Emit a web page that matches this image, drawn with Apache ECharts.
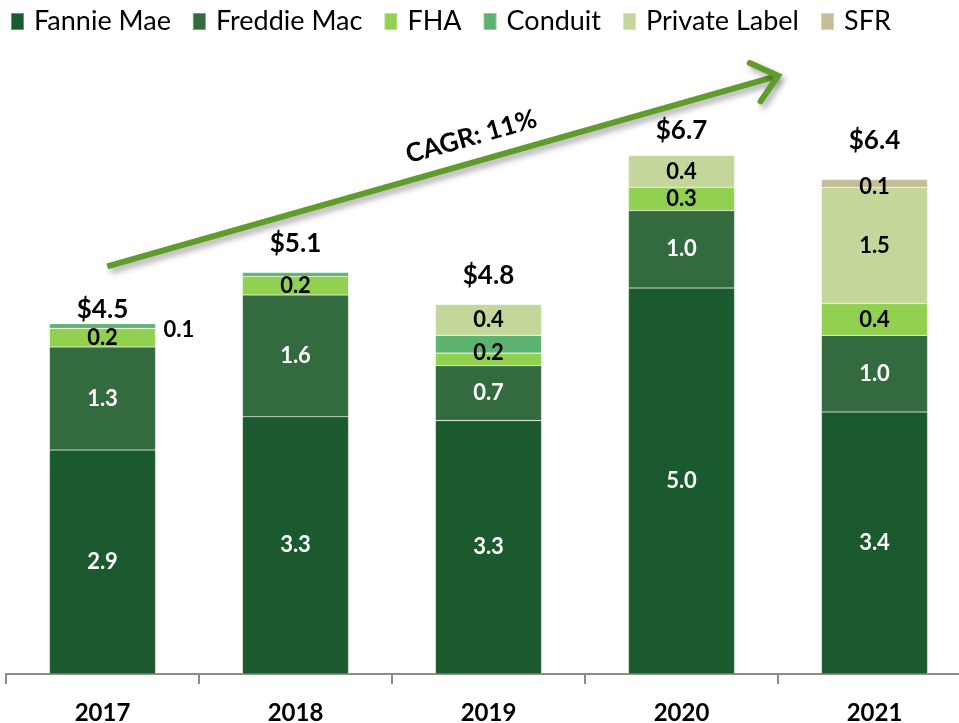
<!DOCTYPE html>
<html>
<head>
<meta charset="utf-8">
<script src="https://cdn.jsdelivr.net/npm/echarts@6/dist/echarts.min.js"></script>
<style>
  html, body { margin: 0; padding: 0; background: #ffffff; }
  #chart { width: 959px; height: 723px; }
</style>
</head>
<body>
<div id="chart"></div>
<script>
// ---- Data ----
const categories   = ['2017', '2018', '2019', '2020', '2021'];
const fannieMae    = [2.89, 3.32, 3.27, 4.98, 3.38];
const freddieMac   = [1.33, 1.57, 0.71, 1.00, 0.99];
const fha          = [0.24, 0.24, 0.16, 0.30, 0.41];
const conduit      = [0.06, 0.05, 0.23, 0, 0];
const privateLabel = [0, 0, 0.40, 0.41, 1.50];
const sfr          = [0, 0, 0, 0, 0.10];
const totalLabels  = ['$4.5', '$5.1', '$4.8', '$6.7', '$6.4'];
const cagrText     = 'CAGR: 11%';
const seriesNames  = ['Fannie Mae', 'Freddie Mac', 'FHA', 'Conduit', 'Private Label', 'SFR'];

// ---- Styles ----
const FONT = 'Lato';
const colors = ['#1b5a2e', '#336a3e', '#92d050', '#5cb26f', '#c4d79b', '#c4bd97'];
const labelColors = ['#ffffff', '#ffffff', '#000000', '#000000', '#000000', '#000000'];

const allSeries = [fannieMae, freddieMac, fha, conduit, privateLabel, sfr];

function itemLabel(si, ci) {
  const base = { show: true, position: 'inside', color: labelColors[si],
    fontFamily: FONT, fontWeight: 'bold', fontSize: 22 };
  if (si === 3) {
    if (ci === 0) return Object.assign(base, { position: 'right', distance: 8, offset: [0, 4], color: '#000' });
    return { show: false };
  }
  if (si === 2 && ci === 2) return Object.assign(base, { offset: [0, -6] });
  if (si === 5) return Object.assign(base, { offset: [0, 3] });
  return base;
}

const barSeries = allSeries.map((arr, si) => ({
  name: seriesNames[si],
  type: 'bar',
  stack: 'total',
  barWidth: '55%',
  itemStyle: { color: colors[si], borderColor: 'rgba(255,255,255,0.35)', borderWidth: 0.6 },
  label: { show: true, position: 'inside', color: labelColors[si], fontFamily: FONT,
    fontWeight: 'bold', fontSize: 22, formatter: (p) => Number(p.value).toFixed(1) },
  data: arr.map((v, ci) => v > 0 ? { value: v, label: itemLabel(si, ci) } : null),
  emphasis: { disabled: true }
}));

const sums = categories.map((_, ci) => allSeries.reduce((s, a) => s + a[ci], 0));
const labelLift = [14, 29, 29, 25, 39];

const chart = echarts.init(document.getElementById('chart'), null, { renderer: 'canvas' });
chart.setOption({
  animation: false,
  backgroundColor: '#ffffff',
  legend: {
    data: seriesNames,
    left: 5, top: 3,
    icon: 'rect',
    itemWidth: 13, itemHeight: 17,
    itemGap: 21,
    textStyle: { fontFamily: FONT, fontSize: 27, color: '#000', padding: [0, 0, 0, 5] }
  },
  grid: { left: 6, width: 965, top: 54, height: 620, containLabel: false, outerBoundsMode: 'none' },
  xAxis: {
    type: 'category',
    data: categories,
    axisLine: { lineStyle: { color: '#8c8c8c', width: 2 } },
    axisTick: { show: true, length: 10, lineStyle: { color: '#8c8c8c', width: 2 } },
    axisLabel: { margin: 27, color: '#000', fontFamily: FONT, fontWeight: 'bold', fontSize: 24 }
  },
  yAxis: { type: 'value', min: 0, max: 8, show: false, splitLine: { show: false } },
  series: barSeries
});

// ---- Annotations, positioned through the chart's own scales ----
function toPx(idx, val) {
  const a = chart.convertToPixel({ gridIndex: 0 }, [0, val]);
  const b = chart.convertToPixel({ gridIndex: 0 }, [3, val]);
  return [a[0] + (b[0] - a[0]) / 3 * idx, a[1]];
}

// total labels above each stack
const totalGraphics = sums.map((s, ci) => {
  const p = toPx(ci, s);
  return { type: 'text', x: p[0], y: p[1] - labelLift[ci], silent: true, z: 12,
    style: { text: totalLabels[ci], fill: '#000', font: 'bold 26px ' + FONT,
      align: 'center', verticalAlign: 'middle' } };
});

// CAGR arrow
const start = toPx(0.025, 5.26);
const tip = toPx(3.5, 7.72);
const dx = tip[0] - start[0], dy = tip[1] - start[1];
const len = Math.sqrt(dx * dx + dy * dy);
const ux = dx / len, uy = dy / len;
const armLen = 31, armAng = 40 * Math.PI / 180;
function rot(x, y, t) { return [x * Math.cos(t) - y * Math.sin(t), x * Math.sin(t) + y * Math.cos(t)]; }
const r1 = rot(-ux, -uy, armAng), r2 = rot(-ux, -uy, -armAng);
const arm1 = [tip[0] + r1[0] * armLen, tip[1] + r1[1] * armLen];
const arm2 = [tip[0] + r2[0] * armLen, tip[1] + r2[1] * armLen];
const angle = Math.atan2(-dy, dx);
const t = 0.553, off = 25;
const textPos = [start[0] + dx * t + uy * off, start[1] + dy * t - ux * off];

const arrowStyle = { stroke: '#5f9c2c', lineWidth: 6, fill: null,
  shadowColor: 'rgba(0,0,0,0.35)', shadowBlur: 6, shadowOffsetX: 3, shadowOffsetY: 4 };

chart.setOption({
  graphic: [
    { type: 'line', shape: { x1: start[0], y1: start[1], x2: tip[0] - ux * 3, y2: tip[1] - uy * 3 },
      style: Object.assign({}, arrowStyle, { lineCap: 'butt' }), silent: true, z: 10 },
    { type: 'polyline', shape: { points: [arm1, tip, arm2] },
      style: Object.assign({}, arrowStyle, { lineJoin: 'miter', lineCap: 'round' }), silent: true, z: 10 },
    { type: 'text', x: textPos[0], y: textPos[1], rotation: angle,
      style: { text: cagrText, fill: '#000', font: 'bold 26px ' + FONT, align: 'center', verticalAlign: 'middle' },
      silent: true, z: 11 }
  ].concat(totalGraphics)
});
</script>
</body>
</html>
